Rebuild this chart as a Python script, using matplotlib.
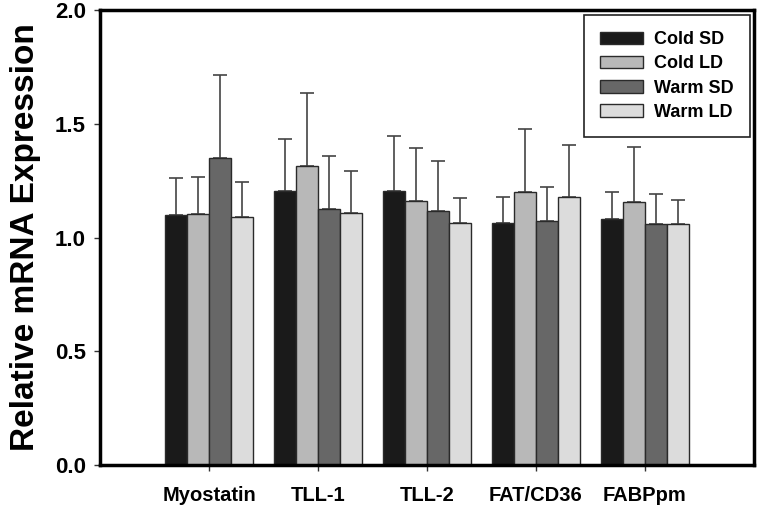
import numpy as np
import matplotlib
matplotlib.use("Agg")
import matplotlib.pyplot as plt

plt.rcParams['font.family'] = ['Liberation Sans', 'DejaVu Sans']
plt.rcParams['font.weight'] = 'bold'

# datos
genes = ['Myostatin', 'TLL-1', 'TLL-2', 'FAT/CD36', 'FABPpm']
grupos = ['Cold SD', 'Cold LD', 'Warm SD', 'Warm LD']
cold_sd = [1.099, 1.205, 1.205, 1.062, 1.080]
cold_ld = [1.104, 1.314, 1.161, 1.202, 1.156]
warm_sd = [1.348, 1.127, 1.118, 1.072, 1.058]
warm_ld = [1.091, 1.109, 1.062, 1.180, 1.058]
err_cold_sd = [0.162, 0.228, 0.240, 0.118, 0.122]
err_cold_ld = [0.160, 0.319, 0.231, 0.274, 0.240]
err_warm_sd = [0.365, 0.232, 0.218, 0.148, 0.135]
err_warm_ld = [0.152, 0.184, 0.113, 0.225, 0.107]

valores = [cold_sd, cold_ld, warm_sd, warm_ld]
errores = [err_cold_sd, err_cold_ld, err_warm_sd, err_warm_ld]
colores = ['#1a1a1a', '#b8b8b8', '#676767', '#dcdcdc']

fig = plt.figure(figsize=(7.57, 5.08), dpi=100)
ax = fig.add_axes([100 / 757, (508 - 465) / 508, 654 / 757, 455 / 508])

x = np.arange(len(genes))
ancho = 0.2
for k in range(4):
    pos = x + (k - 1.5) * ancho
    ax.bar(pos, valores[k], ancho, color=colores[k], edgecolor='#2a2a2a',
           linewidth=1.0, label=grupos[k], zorder=2)
    ax.errorbar(pos, valores[k], yerr=[np.zeros(len(genes)), errores[k]],
                fmt='none', ecolor='#444444', elinewidth=1.2, capsize=5,
                capthick=1.2, zorder=1)

ax.set_xlim(-1.0, 5.0)
ax.set_ylim(0, 2.0)
ax.set_yticks([0.0, 0.5, 1.0, 1.5, 2.0])
ax.set_yticklabels(['0.0', '0.5', '1.0', '1.5', '2.0'], fontsize=16, fontweight='bold')
ax.set_xticks(x)
ax.set_xticklabels(genes, fontsize=14.5, fontweight='bold')
ax.tick_params(axis='both', direction='out', length=4, width=1, color='#333333')
ax.tick_params(axis='x', pad=11)
ax.tick_params(axis='y', pad=6)
ax.set_ylabel('Relative mRNA Expression', fontsize=24, fontweight='bold', labelpad=10)
for s in ax.spines.values():
    s.set_linewidth(2.5)

leg = ax.legend(loc='upper right', bbox_to_anchor=(750 / 757, (508 - 15) / 508),
                bbox_transform=fig.transFigure, fancybox=False, edgecolor='#222222',
                framealpha=1, prop={'weight': 'bold', 'size': 13},
                handlelength=2.4, handleheight=0.7, handletextpad=0.6,
                borderpad=0.9, labelspacing=0.4, borderaxespad=0)
leg.get_frame().set_linewidth(1.2)

fig.savefig('out.png', dpi=100)
